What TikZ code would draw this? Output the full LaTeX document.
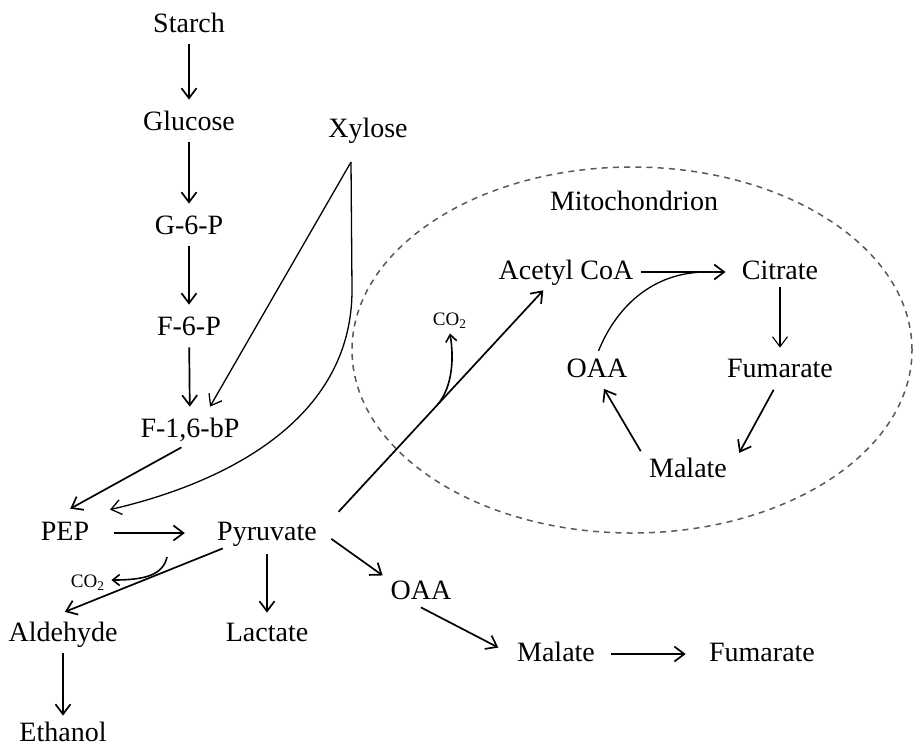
\documentclass[tikz,border=0pt]{standalone}
\usepackage{fontspec}
\setmainfont{Liberation Serif}
\usetikzlibrary{positioning, arrows.meta, calc}

\begin{document}
\begin{tikzpicture}[x=0.5pt, y=-0.5pt, >={Straight Barb[length=5pt, width=7.5pt]},
  font=\fontsize{14}{16}\selectfont,
  every node/.style={inner sep=3pt, text height=0.82em, text depth=0.08em},
  flow/.style={->, line width=0.85pt, shorten <=2pt, shorten >=3pt},
  thinflow/.style={flow, line width=0.55pt},
  small/.style={font=\fontsize{9.5}{10}\selectfont},
  membrane/.style={dashed, dash pattern=on 3pt off 2.6pt, line width=0.75pt, black!65}]
  \useasboundingbox (0,0) rectangle (913,745);
  % nodes
  \node (starch) at (189,25) {Starch};
  \node (glucose) at (189,123) {Glucose};
  \node (g6p) at (189,227) {G-6-P};
  \node (f6p) at (189,328) {F-6-P};
  \node (f16bp) at (190,430) {F-1,6-bP};
  \node (xylose) at (368,130) {Xylose};
  \node (pep) at (65,533) {PEP};
  \node (pyruvate) at (267,533) {Pyruvate};
  \node (aldehyde) at (63,634) {Aldehyde};
  \node (ethanol) at (63,734) {Ethanol};
  \node (lactate) at (267,634) {Lactate};
  \node (oaa) at (421,592) {OAA};
  \node (malate) at (556,654) {Malate};
  \node (fumarate) at (762,654) {Fumarate};
  \node[small] (co2out) at (88,580) {CO\textsubscript{2}};
  % mitochondrion
  \draw[membrane] (632,350) ellipse [x radius=140pt, y radius=91.5pt];
  \node (mito) at (634,203) {Mitochondrion};
  \node (acetyl) at (566,272) {Acetyl CoA};
  \node (citrate) at (780,272) {Citrate};
  \node (oaam) at (597,370) {OAA};
  \node (fumm) at (780,370) {Fumarate};
  \node (malm) at (688,470) {Malate};
  \node[small] (co2in) at (450,318) {CO\textsubscript{2}};
  \coordinate (fork) at (351,162);
  \coordinate (pyrbr) at (167,557);
  % glycolysis
  \foreach \a/\b in {starch/glucose, glucose/g6p, g6p/f6p, f6p/f16bp}{ \draw[flow, shorten >=4pt] (\a)--(\b); }
  \draw[->, line width=0.65pt] (fork)--([xshift=10pt, yshift=4pt]f16bp.north);
  \draw[->, line width=0.65pt] (fork)--(352,290) .. controls (352,420) and (225,483) .. ([xshift=22.5pt, yshift=4pt]pep.north);
  \draw[flow] ([xshift=-2.5pt]f16bp.south)--([yshift=3pt]pep.north);
  \draw[flow, shorten <=9pt, shorten >=13pt] (pep.east)--(pyruvate.west);
  % pyruvate branches
  \draw[flow, shorten <=0pt, shorten >=1pt] ([xshift=6pt]pyruvate.south west)--([yshift=3pt]aldehyde.north);
  \draw[->, line width=0.8pt, >={Straight Barb[length=3.5pt, width=5.5pt]}] (pyrbr) .. controls (163,575) and (145,580) .. (co2out.east);
  \draw[flow, shorten <=3pt, shorten >=3pt] (pyruvate.south)--(lactate.north);
  \draw[flow, shorten >=1.5pt] (aldehyde.south)--(ethanol.north);
  \draw[flow, shorten <=5pt, shorten >=1pt] (pyruvate.east)--(oaa.north west);
  \draw[flow, shorten <=0pt, shorten >=7pt] (oaa.south)--(malate.west);
  \draw[flow, shorten <=5pt, shorten >=8.5pt] (malate.east)--(fumarate.west);
  \draw[flow, shorten <=4pt, shorten >=2pt] ([xshift=5pt]pyruvate.north east)--([xshift=-10pt]acetyl.south) coordinate[pos=0.49] (acbr);
  \draw[->, line width=0.8pt, >={Straight Barb[length=3.5pt, width=5.5pt]}] (acbr) .. controls (450,390) and (455,365) .. (co2in.south);
  % TCA cycle
  \draw[flow, shorten <=0.5pt, shorten >=5pt] (acetyl.east)--(citrate.west) coordinate[pos=0.7] (merge);
  \draw[line width=0.65pt, shorten <=2pt] (oaam.north) .. controls (615,310) and (650,272) .. (merge);
  \draw[thinflow, shorten <=0pt, shorten >=3.5pt] (citrate.south)--(fumm.north);
  \draw[flow, shorten <=2.5pt, shorten >=1pt] ([xshift=-2pt]fumm.south)--([xshift=2.5pt]malm.north east);
  \draw[flow, shorten >=2pt] (malm.north west)--([xshift=2.5pt]oaam.south);
\end{tikzpicture}
\end{document}
